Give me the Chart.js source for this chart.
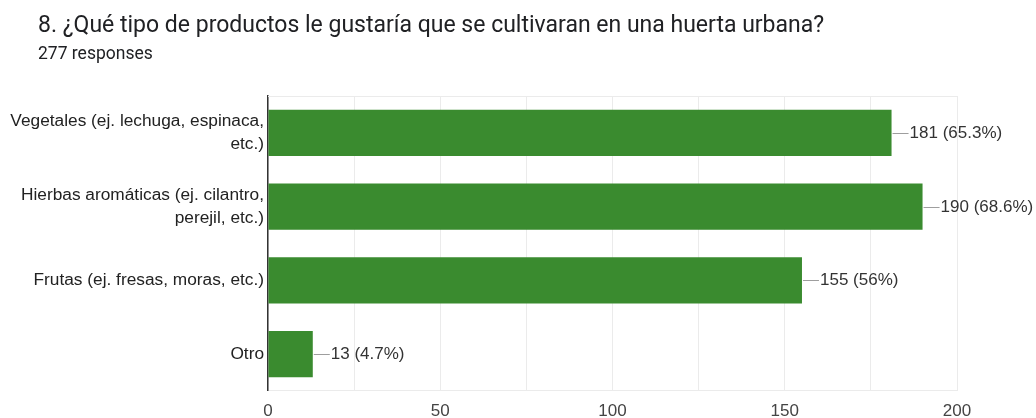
<!DOCTYPE html>
<html>
<head>
<meta charset="utf-8">
<script src="https://cdn.jsdelivr.net/npm/chart.js@4/dist/chart.umd.min.js"></script>
<style>
  html, body { margin: 0; padding: 0; background: #fff; }
  #wrap { position: relative; width: 1036px; height: 418px; overflow: hidden; }
  #title { position: absolute; left: 38px; top: 12.6px; font-family: Roboto, sans-serif; font-size: 23px; line-height: 1; color: #202124; white-space: nowrap; }
  #sub { position: absolute; left: 38px; top: 45.3px; font-family: Roboto, sans-serif; font-size: 17.5px; line-height: 1; color: #202124; white-space: nowrap; }
  canvas { position: absolute; left: 0; top: 0; }
</style>
</head>
<body>
<div id="wrap">
  <canvas id="c" width="1036" height="418"></canvas>
  <div id="title">8. ¿Qué tipo de productos le gustaría que se cultivaran en una huerta urbana?</div>
  <div id="sub">277 responses</div>
</div>
<script>
// Answer options (wrapped onto two lines where the label is long)
const categories = [
  ['Vegetales (ej. lechuga, espinaca,', 'etc.)'],
  ['Hierbas aromáticas (ej. cilantro,', 'perejil, etc.)'],
  'Frutas (ej. fresas, moras, etc.)',
  'Otro'
];
const counts = [181, 190, 155, 13];
const percents = ['65.3%', '68.6%', '56%', '4.7%'];
const xTicks = [0, 50, 100, 150, 200];

const labelFont = '"Liberation Sans", Arial, sans-serif';

// Count + percentage drawn just past the end of each bar, with a short leader line
const valueLabels = {
  id: 'valueLabels',
  afterDatasetsDraw(chart) {
    const ctx = chart.ctx;
    const meta = chart.getDatasetMeta(0);
    ctx.save();
    meta.data.forEach((bar, i) => {
      const x = bar.x, y = Math.round(bar.y) + 0.5;
      ctx.strokeStyle = '#9e9e9e';
      ctx.lineWidth = 1;
      ctx.beginPath();
      ctx.moveTo(x + 1, y);
      ctx.lineTo(x + 17, y);
      ctx.stroke();
      ctx.fillStyle = '#333333';
      ctx.font = '17px ' + labelFont;
      ctx.textBaseline = 'middle';
      ctx.textAlign = 'left';
      ctx.fillText(counts[i] + ' (' + percents[i] + ')', x + 18, y);
    });
    ctx.restore();
  }
};

// Light frame line along the top of the plot area
const topFrame = {
  id: 'topFrame',
  beforeDatasetsDraw(chart) {
    const { ctx, chartArea } = chart;
    ctx.save();
    ctx.strokeStyle = '#ebebeb';
    ctx.lineWidth = 1;
    ctx.beginPath();
    ctx.moveTo(chartArea.left, chartArea.top + 0.5);
    ctx.lineTo(chartArea.right, chartArea.top + 0.5);
    ctx.stroke();
    ctx.restore();
  }
};

new Chart(document.getElementById('c'), {
  type: 'bar',
  data: {
    labels: categories,
    datasets: [{
      data: counts,
      backgroundColor: '#3a8b2f',
      borderWidth: 0,
      categoryPercentage: 1,
      barPercentage: 0.63
    }]
  },
  options: {
    indexAxis: 'y',
    responsive: false,
    animation: false,
    layout: { padding: { top: 96, right: 79, bottom: 0, left: 0 } },
    plugins: { legend: { display: false }, tooltip: { enabled: false } },
    scales: {
      x: {
        min: xTicks[0],
        max: xTicks[xTicks.length - 1],
        ticks: {
          stepSize: 25,
          autoSkip: false,
          maxRotation: 0,
          padding: 10,
          color: '#444444',
          font: { family: labelFont, size: 17 },
          callback: v => xTicks.includes(v) ? String(v) : ''
        },
        grid: { color: '#ebebeb', drawTicks: false, lineWidth: 1 },
        border: { color: '#ebebeb', width: 1 },
        afterFit(scale) { scale.height = 27; }
      },
      y: {
        ticks: {
          padding: 4,
          color: '#222222',
          font: { family: labelFont, size: 17.3, lineHeight: 1.33 }
        },
        grid: { display: false, drawTicks: false },
        border: { color: '#333333', width: 1.5 },
        afterFit(scale) { scale.width = 268; }
      }
    }
  },
  plugins: [valueLabels, topFrame]
});
</script>
</body>
</html>
